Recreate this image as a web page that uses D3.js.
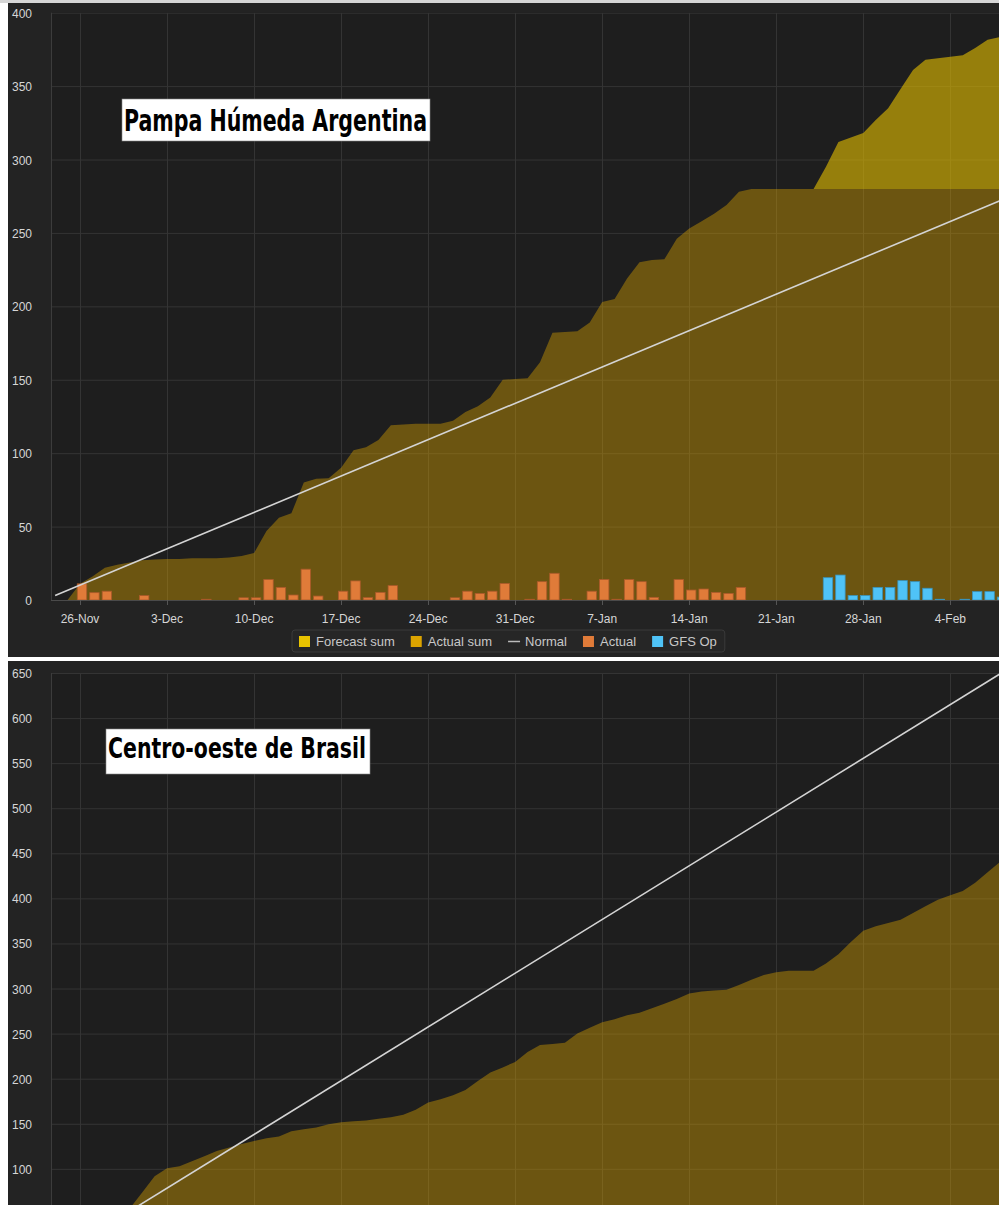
<!DOCTYPE html>
<html>
<head>
<meta charset="utf-8">
<script src="https://cdn.jsdelivr.net/npm/d3@7"></script>
<style>
  body { margin: 0; background: #fff; }
  svg { display: block; }
</style>
</head>
<body>
<div id="chart"></div>
<script>
// ---- data (mm of rain) ----
const tickDates = ["2017-11-26", "2017-12-03", "2017-12-10", "2017-12-17", "2017-12-24", "2017-12-31",
                   "2018-01-07", "2018-01-14", "2018-01-21", "2018-01-28", "2018-02-04"];
const pampaTicks = [0, 50, 100, 150, 200, 250, 300, 350, 400];
const brasilTicks = [0, 50, 100, 150, 200, 250, 300, 350, 400, 450, 500, 550, 600, 650];

// Pampa Húmeda: daily actual rain, from 26-Nov
const pampaActualStart = "2017-11-26";
const pampaActual = [11, 5, 6, 0, 0, 3, 0, 0, 0, 0, 0.5, 0, 0, 1.5, 1.5, 14, 8.6, 3.4, 21, 2.7,
                     0, 6, 13, 1.6, 5.2, 9.8, 0, 0, 0, 0, 1.5, 6, 4.5, 6, 11.3, 0, 0.5, 12.5, 18.2, 0.5,
                     0, 6, 14, 0.5, 14, 12.5, 1.8, 0, 14, 6.8, 7.5, 5.2, 4.5, 8.6];
// GFS Op daily forecast, from 25-Jan
const pampaGfsStart = "2018-01-25";
const pampaGfs = [15.2, 17, 3, 3, 8.6, 8.6, 13.2, 12.5, 8, 0.5, 0, 0.5, 5.7, 5.7, 2];
// accumulated actual, from 25-Nov
const pampaSumStart = "2017-11-25";
const pampaActualSum = [0, 11, 16, 22, 24, 25.5, 27, 27.5, 28, 28, 28.5, 28.5, 28.5, 29, 30, 32, 47, 56, 59, 80,
                        82.5, 83, 90, 102, 104, 109, 119, 119.5, 120, 120, 120, 122, 128, 132, 138, 150, 150.5, 151, 162, 182,
                        182.5, 183, 189, 203, 205, 219, 230, 231.5, 232, 246, 253, 258, 263, 269, 278,
                        280, 280, 280, 280, 280, 280, 280, 280, 280, 280, 280, 280, 280, 280, 280, 280, 280, 280, 280, 280, 280];
// accumulated forecast, from 24-Jan
const pampaForecastStart = "2018-01-24";
const pampaForecastSum = [280, 295, 312, 315, 318, 327, 335, 348, 361, 368, 369, 370, 371, 376, 381.5, 383.5];
// normal accumulation (end points)
const pampaNormalDates = ["2017-11-24", "2018-02-08"];
const pampaNormal = [3, 272];

// Centro-oeste de Brasil: accumulated actual, from 24-Nov
const brasilSumStart = "2017-11-24";
const brasilActualSum = [0, 0, 4, 18, 34, 46, 56, 73.8, 91.8, 100.8, 103, 108.3, 114, 119.7, 123.6, 127.5, 131, 133.9, 136, 141.8,
                         144, 146, 149.6, 151.6, 152.7, 153.7, 155.5, 157.3, 159.9, 165.5, 173.7, 177.2, 181.6, 187.4, 197.5, 206.8,
                         212.5, 218.6, 229.5, 237.3, 238.6, 240, 250.2, 256.5, 262.7, 265.8, 270.5, 273.2, 278.1, 283, 288.5,
                         294.6, 296.6, 297.7, 298.6, 303.8, 309.7, 314.9, 318, 319.7, 319.7, 319.7, 327.8, 337.9, 351.5, 364.2,
                         369.2, 372.6, 376.3, 383.7, 391.4, 398.6, 403.5, 408.3, 417.3, 429, 440.5];
const brasilNormalDates = ["2017-11-24", "2018-02-08"];
const brasilNormal = [2, 649];

const legendNames = ["Forecast sum", "Actual sum", "Normal", "Actual", "GFS Op"];
const legendColors = ["#e8c300", "#dca400", "#bbbbbb", "#e07b39", "#4fc3f7"];

// ---- setup ----
const width = 999, height = 1205;
const parseDay = d3.timeParse("%Y-%m-%d");
const fmt = d3.timeFormat("%-d-%b");
const daySeries = (start, values) => {
  const t0 = parseDay(start);
  return values.map((v, i) => ({date: d3.timeDay.offset(t0, i), value: v}));
};
const pairSeries = (dates, values) => dates.map((d, i) => ({date: parseDay(d), value: values[i]}));

const svg = d3.select("#chart").append("svg")
  .attr("width", width).attr("height", height)
  .style("font-family", "'Liberation Sans', Arial, sans-serif");

svg.append("rect").attr("width", width).attr("height", height).attr("fill", "#fff");
svg.append("rect").attr("width", width).attr("height", 3).attr("fill", "#d6d6d6");

const x = d3.scaleTime()
  .domain([new Date(2017, 10, 23, 16), new Date(2018, 1, 7, 22)])
  .range([51, 999]);
const dayW = x(new Date(2017, 11, 2)) - x(new Date(2017, 11, 1));

function drawPanel(cfg) {
  const g = svg.append("g");
  const panelBottom = cfg.top + cfg.height;
  const y = d3.scaleLinear().domain(cfg.domain).range(cfg.range);
  const plotTop = y(cfg.domain[1]);
  const plotBottom = Math.min(y(0), panelBottom);

  g.append("rect").attr("x", 8).attr("y", cfg.top).attr("width", width - 8).attr("height", cfg.height)
    .attr("fill", "#232323");
  g.append("rect").attr("x", x.range()[0]).attr("y", plotTop)
    .attr("width", x.range()[1] - x.range()[0]).attr("height", plotBottom - plotTop)
    .attr("fill", "#1e1e1e");

  const clipId = "clip" + cfg.id;
  svg.append("clipPath").attr("id", clipId).append("rect")
    .attr("x", x.range()[0]).attr("y", plotTop)
    .attr("width", x.range()[1] - x.range()[0]).attr("height", plotBottom - plotTop);
  const plot = g.append("g").attr("clip-path", `url(#${clipId})`);

  const ticks = tickDates.map(parseDay);

  // grid
  plot.selectAll(".hg").data(cfg.ticks).enter().append("line")
    .attr("x1", x.range()[0]).attr("x2", x.range()[1])
    .attr("y1", d => y(d) + 0.5).attr("y2", d => y(d) + 0.5)
    .attr("stroke", "#343434");
  plot.selectAll(".vg").data(ticks).enter().append("line")
    .attr("x1", d => Math.round(x(d)) + 0.5).attr("x2", d => Math.round(x(d)) + 0.5)
    .attr("y1", plotTop).attr("y2", plotBottom)
    .attr("stroke", "#343434");
  g.append("line")
    .attr("x1", x.range()[0] + 0.5).attr("x2", x.range()[0] + 0.5)
    .attr("y1", plotTop).attr("y2", plotBottom)
    .attr("stroke", "#3c3c3c");

  // forecast sum, stacked on the last actual sum
  if (cfg.forecastSum) {
    const base = cfg.actualSum[cfg.actualSum.length - 1].value;
    plot.append("path").datum(cfg.forecastSum)
      .attr("fill", "#e6c000").attr("fill-opacity", 0.6)
      .attr("d", d3.area().x(d => x(d.date)).y0(y(base)).y1(d => y(d.value)));
  }
  // actual sum
  plot.append("path").datum(cfg.actualSum)
    .attr("fill", "#d9a300").attr("fill-opacity", 0.42)
    .attr("d", d3.area().x(d => x(d.date)).y0(y(0)).y1(d => y(d.value)));

  // daily bars
  const barW = dayW * 0.76;
  [[cfg.actual, "#e07b39", "#a9592a"], [cfg.gfs, "#4fc3f7", "#3a93bb"]].forEach(([data, fill, stroke]) => {
    if (!data) return;
    plot.selectAll(null).data(data.filter(d => d.value > 0)).enter().append("rect")
      .attr("x", d => x(d.date) + 2 - barW / 2)
      .attr("y", d => y(d.value))
      .attr("width", barW)
      .attr("height", d => y(0) - y(d.value))
      .attr("fill", fill)
      .attr("stroke", stroke).attr("stroke-width", 0.8);
  });

  // normal
  plot.append("path").datum(cfg.normal)
    .attr("fill", "none").attr("stroke", "#d4d4d4").attr("stroke-width", 1.6)
    .attr("d", d3.line().x(d => x(d.date)).y(d => y(d.value)));

  // y labels
  g.selectAll(".yl").data(cfg.ticks.filter(t => y(t) < panelBottom - 4)).enter().append("text")
    .attr("x", 32).attr("y", d => y(d) + 5)
    .attr("text-anchor", "end")
    .attr("font-size", "12px").attr("fill", "#d6d6d6")
    .text(d => d);

  // x axis
  if (y(0) < panelBottom) {
    g.append("line")
      .attr("x1", x.range()[0]).attr("x2", x.range()[1])
      .attr("y1", y(0) + 0.5).attr("y2", y(0) + 0.5)
      .attr("stroke", "#4a4a4a");
    g.selectAll(".xt").data(ticks).enter().append("line")
      .attr("x1", d => Math.round(x(d)) + 0.5).attr("x2", d => Math.round(x(d)) + 0.5)
      .attr("y1", y(0)).attr("y2", y(0) + 5)
      .attr("stroke", "#555");
    g.selectAll(".xl").data(ticks).enter().append("text")
      .attr("x", d => x(d)).attr("y", y(0) + 23)
      .attr("text-anchor", "middle")
      .attr("font-size", "12px").attr("fill", "#d6d6d6")
      .text(d => fmt(d));
  }

  // title box
  const tb = cfg.titleBox;
  g.append("rect").attr("x", tb.x).attr("y", tb.y).attr("width", tb.w).attr("height", tb.h)
    .attr("fill", "#fff").attr("stroke", "#888").attr("stroke-width", 0.6);
  g.append("text")
    .attr("x", tb.x + 2).attr("y", tb.baseline)
    .attr("font-family", "'Liberation Sans Narrow', 'Arial Narrow', 'DejaVu Sans Condensed', sans-serif")
    .attr("font-weight", "bold")
    .attr("font-size", tb.size + "px")
    .attr("fill", "#000")
    .attr("textLength", tb.textW).attr("lengthAdjust", "spacingAndGlyphs")
    .text(cfg.title);

  return y;
}

drawPanel({
  id: "pampa", top: 3, height: 654,
  domain: [0, 400], range: [600, 12.7], ticks: pampaTicks,
  actual: daySeries(pampaActualStart, pampaActual),
  gfs: daySeries(pampaGfsStart, pampaGfs),
  actualSum: daySeries(pampaSumStart, pampaActualSum),
  forecastSum: daySeries(pampaForecastStart, pampaForecastSum),
  normal: pairSeries(pampaNormalDates, pampaNormal),
  title: "Pampa Húmeda Argentina",
  titleBox: {x: 122, y: 99, w: 308, h: 42, baseline: 131, size: 30, textW: 303}
});

drawPanel({
  id: "brasil", top: 661, height: 544,
  domain: [0, 650], range: [1259, 673], ticks: brasilTicks,
  actualSum: daySeries(brasilSumStart, brasilActualSum),
  normal: pairSeries(brasilNormalDates, brasilNormal),
  title: "Centro-oeste de Brasil",
  titleBox: {x: 106, y: 729, w: 264, h: 45, baseline: 758, size: 28, textW: 258}
});

// legend of the top panel
const legend = svg.append("g").attr("transform", "translate(292,630)");
const legendBox = legend.append("rect")
  .attr("x", 0).attr("y", 0).attr("height", 22).attr("rx", 3)
  .attr("fill", "#262626").attr("stroke", "#3a3a3a");
let cx = 7;
legendNames.forEach((name, i) => {
  if (name === "Normal") {
    legend.append("line").attr("x1", cx).attr("x2", cx + 12).attr("y1", 11.5).attr("y2", 11.5)
      .attr("stroke", legendColors[i]).attr("stroke-width", 1.5);
  } else {
    legend.append("rect").attr("x", cx).attr("y", 6).attr("width", 11).attr("height", 11)
      .attr("fill", legendColors[i]);
  }
  const t = legend.append("text").attr("x", cx + 17).attr("y", 16)
    .attr("font-size", "13px").attr("fill", "#c8c8c8").text(name);
  cx += 17 + t.node().getComputedTextLength() + 16;
});
legendBox.attr("width", cx - 8);
</script>
</body>
</html>
